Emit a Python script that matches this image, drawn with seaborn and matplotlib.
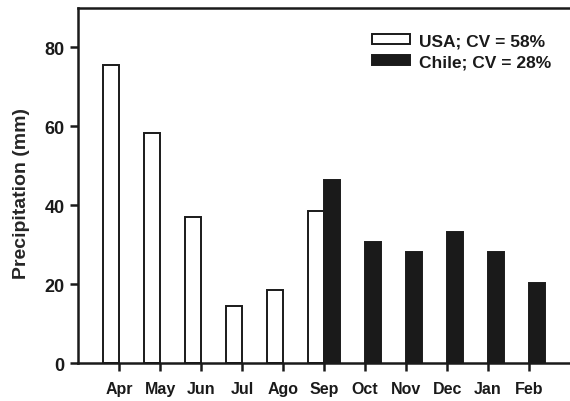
import matplotlib
matplotlib.use("Agg")
import matplotlib.pyplot as plt
from matplotlib.patches import Patch
import seaborn as sns
import pandas as pd

months = ["Apr", "May", "Jun", "Jul", "Ago", "Sep", "Oct", "Nov", "Dec", "Jan", "Feb"]
usa_months = ["Apr", "May", "Jun", "Jul", "Ago", "Sep"]
usa_precip = [75.6, 58.4, 37.0, 14.4, 18.6, 38.6]
chile_months = ["Sep", "Oct", "Nov", "Dec", "Jan", "Feb"]
chile_precip = [46.4, 30.6, 28.1, 33.2, 28.1, 20.4]
series = ["USA", "Chile"]
series_labels = ["USA; CV = 58%", "Chile; CV = 28%"]
yticks = [0, 20, 40, 60, 80]

df = pd.concat([
    pd.DataFrame({"Month": usa_months, "Precip": usa_precip, "Site": "USA"}),
    pd.DataFrame({"Month": chile_months, "Precip": chile_precip, "Site": "Chile"}),
], ignore_index=True)

sns.set_theme(style="ticks")
plt.rcParams["font.family"] = ["Liberation Sans", "DejaVu Sans"]
plt.rcParams["font.weight"] = "bold"

fig = plt.figure(figsize=(5.7, 4.02), dpi=100)
ax = fig.add_axes([0.1374, 0.0938, 0.8626, 0.8838])

fills = {"USA": "white", "Chile": "#1a1a1a"}
sns.barplot(data=df, x="Month", y="Precip", hue="Site", order=months,
            hue_order=series, palette=fills, width=0.78,
            edgecolor="#1a1a1a", linewidth=1.4, saturation=1,
            legend=False, ax=ax)

ax.set_xlim(-1, 11)
ax.set_ylim(0, 90)
ax.set_yticks(yticks)
ax.set_xlabel("")
ax.set_ylabel("Precipitation (mm)", fontsize=14, fontweight="bold")
ax.yaxis.set_label_coords(-0.098, 0.48)

for side in ["left", "top", "bottom"]:
    ax.spines[side].set_linewidth(1.8)
    ax.spines[side].set_color("#1a1a1a")
ax.spines["right"].set_visible(False)

ax.tick_params(axis="both", direction="out", length=6, width=1.8, color="#1a1a1a",
               labelcolor="#1a1a1a")
ax.tick_params(axis="x", pad=7, labelsize=11.5)
ax.tick_params(axis="y", pad=4, labelsize=13)
for lbl in ax.get_xticklabels() + ax.get_yticklabels():
    lbl.set_fontweight("bold")

handles = [Patch(facecolor=fills[s], edgecolor="#1a1a1a", linewidth=1.4) for s in series]
leg = fig.legend(handles, series_labels, loc="upper left",
                 bbox_to_anchor=(0.652, 0.915), frameon=False,
                 prop={"weight": "bold", "size": 12.5},
                 handlelength=2.2, handleheight=0.52, handletextpad=0.5,
                 labelspacing=0.35, borderpad=0, borderaxespad=0)
for t in leg.get_texts():
    t.set_color("#1a1a1a")

fig.savefig("out.png", dpi=100)
